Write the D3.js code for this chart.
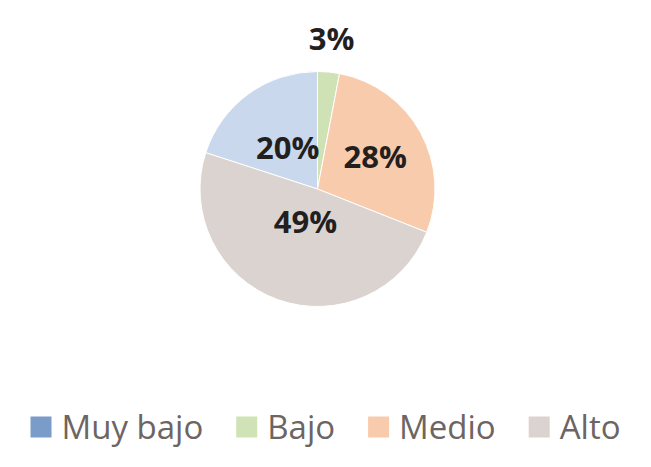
<!DOCTYPE html>
<html>
<head>
<meta charset="utf-8">
<script src="https://cdn.jsdelivr.net/npm/d3@7"></script>
<style>
  body { margin: 0; background: #fff; }
  text { font-family: "Open Sans", "DejaVu Sans", sans-serif; }
</style>
</head>
<body>
<div id="chart"></div>
<script>
// canvas
var width = 651,
    height = 467;

// data
var categories = ["Muy bajo", "Bajo", "Medio", "Alto"];
var values = [20, 3, 28, 49];
var labels = ["20%", "3%", "28%", "49%"];

// slice colours and (darker) legend colours
var sliceColors = ["#c9d8ec", "#cfe2b6", "#f8cbad", "#dbd3cf"];
var legendColors = ["#7a9cc9", "#d0e3b6", "#f8cbad", "#dbd3cf"];

// pie geometry
var cx = 317.5,
    cy = 189,
    radius = 117.5;

// where Excel put each label, as a fraction of the radius
var labelRadius = [0.43, 1.28, 0.56, 0.30];

var svg = d3.select("#chart")
    .append("svg")
    .attr("width", width)
    .attr("height", height);

var g = svg.append("g")
    .attr("transform", "translate(" + cx + "," + cy + ")");

// first slice starts so that "Muy bajo" ends at 12 o'clock
var pie = d3.pie()
    .sort(null)
    .startAngle(-2 * Math.PI * values[0] / d3.sum(values))
    .endAngle(2 * Math.PI - 2 * Math.PI * values[0] / d3.sum(values))
    .value(function(d) { return d; });

var arc = d3.arc()
    .innerRadius(0)
    .outerRadius(radius);

var arcs = pie(values);

g.selectAll(".slice")
    .data(arcs)
    .enter()
    .append("path")
    .attr("class", "slice")
    .attr("d", arc)
    .attr("fill", function(d, i) { return sliceColors[i]; })
    .attr("stroke", "#fff")
    .attr("stroke-width", 1);

// percentage labels
g.selectAll(".label")
    .data(arcs)
    .enter()
    .append("text")
    .attr("class", "label")
    .attr("transform", function(d, i) {
        var a = (d.startAngle + d.endAngle) / 2,
            r = radius * labelRadius[i];
        return "translate(" + (Math.sin(a) * r) + "," + (-Math.cos(a) * r) + ")";
    })
    .attr("text-anchor", "middle")
    .attr("dy", "0.36em")
    .attr("font-size", "31px")
    .attr("font-weight", "bold")
    .attr("fill", "#231f1f")
    .text(function(d, i) { return labels[i]; });

// legend along the bottom, laid out by measured text widths
var legendRectSize = 21,
    legendTextGap = 10,
    legendItemGap = 33,
    legendY = 427;

var legend = svg.append("g");

var items = legend.selectAll(".legend")
    .data(categories)
    .enter()
    .append("g")
    .attr("class", "legend");

items.append("rect")
    .attr("width", legendRectSize)
    .attr("height", legendRectSize)
    .attr("y", -legendRectSize / 2)
    .attr("fill", function(d, i) { return legendColors[i]; });

items.append("text")
    .attr("x", legendRectSize + legendTextGap)
    .attr("dy", "0.36em")
    .attr("font-size", "33px")
    .attr("fill", "#6d6562")
    .text(function(d) { return d; });

var xPos = 0;
items.each(function() {
    var w = legendRectSize + legendTextGap + d3.select(this).select("text").node().getComputedTextLength();
    d3.select(this).attr("transform", "translate(" + xPos + "," + legendY + ")");
    xPos += w + legendItemGap;
});
var totalWidth = xPos - legendItemGap;
legend.attr("transform", "translate(" + ((width - totalWidth) / 2) + ",0)");
</script>
</body>
</html>
